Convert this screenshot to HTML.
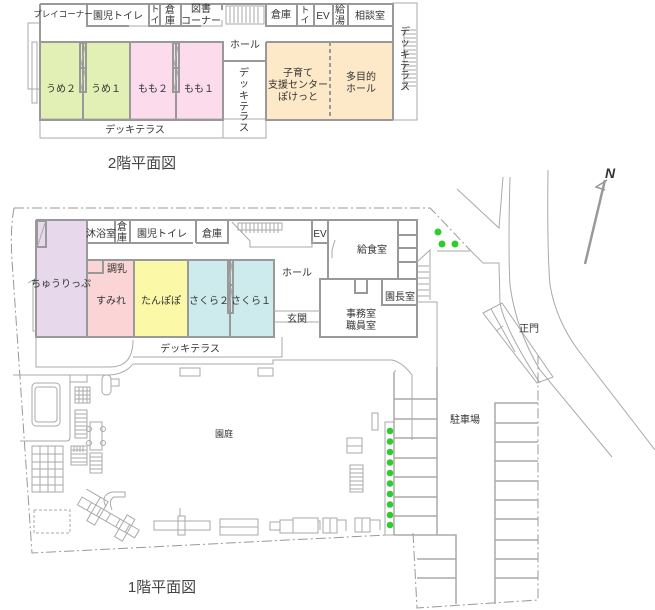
<!DOCTYPE html>
<html><head><meta charset="utf-8"><style>
html,body{margin:0;padding:0;background:#fff;}
svg{display:block;}
text{font-family:"Liberation Sans","Noto Sans CJK JP",sans-serif;font-size:10px;fill:#333;text-anchor:middle;}
.w{fill:none;stroke:#999;stroke-width:2;}
.t{fill:none;stroke:#aaa;stroke-width:1;}
.d{fill:none;stroke:#999;stroke-width:1;stroke-dasharray:10,3,2,3;}
.g{fill:#2ecc2e;}
</style></head><body>
<svg width="655" height="610" viewBox="0 0 655 610" xmlns="http://www.w3.org/2000/svg">
<!-- ===== 2F ===== -->
<rect x="40" y="42" width="43" height="77" fill="#e2f0b5"/>
<rect x="83" y="42" width="47" height="77" fill="#e2f0b5"/>
<rect x="130" y="42" width="93" height="77" fill="#fcdcec"/>
<rect x="266" y="42" width="127" height="77" fill="#fde9c8"/>
<rect x="28" y="23" width="12" height="66" class="t"/>
<rect x="32" y="42" width="5" height="61" class="t"/>
<rect x="40" y="119" width="226" height="19" class="t" fill="#fff"/>
<rect x="223" y="61" width="43" height="77" class="t"/>
<rect x="393" y="3" width="24" height="117" class="t"/>
<g class="t"><path d="M404 30H416M404 34H416M404 38H416M404 42H416M404 46H416M404 50H416M404 54H416M404 58H416M404 62H416M404 66H416M404 70H416M404 74H416M404 78H416M404 82H416M404 86H416M404 30V90"/></g>
<path class="w" d="M40 4H393V120M40 4V120H223V42M40 42H223V61H266M266 42V120H393M266 42H393"/>
<path class="w" d="M83 42V120M130 42V120M176 42V120"/>
<path d="M330 42V120" stroke="#999" stroke-width="2" stroke-dasharray="4,3"/>
<rect x="80" y="43" width="6" height="25" class="w"/><rect x="80" y="68" width="6" height="24" class="w"/>
<path class="t" d="M81 66L85 46M81 90L85 70"/>
<rect x="173" y="43" width="6" height="25" class="w"/><rect x="173" y="68" width="6" height="24" class="w"/>
<path class="t" d="M174 66L178 46M174 90L178 70"/>
<path class="w" d="M87 4V26H129M149 4V26H160M160 4V26H181V4M181 26H201M222 4V10M266 4V26H297V4M297 26H314V4M314 26H333V4M333 26H348V4M348 26H393"/>
<path class="t" d="M129 26H149M201 26H222V20"/>
<g class="t"><path d="M226 6H264V24H226ZM230 7V23M234 7V23M238 7V23M242 7V23M246 7V23M250 7V23M254 7V23M258 7V23"/></g>
<text x="63" y="17" style="font-size:8.5px">プレイコーナー</text>
<text x="118" y="19">園児トイレ</text>
<text x="155" y="12" style="font-size:9px">ト</text><text x="155" y="23" style="font-size:9px">イ</text>
<text x="170" y="13">倉</text><text x="170" y="24">庫</text>
<text x="201" y="12">図書</text><text x="201" y="24">コーナー</text>
<text x="281" y="18">倉庫</text>
<text x="305" y="13" style="font-size:9px">ト</text><text x="305" y="23" style="font-size:9px">イ</text>
<text x="323" y="19">EV</text>
<text x="340" y="13">給</text><text x="340" y="24">湯</text>
<text x="370" y="19">相談室</text>
<text x="245" y="48">ホール</text>
<text x="61" y="92">うめ２</text>
<text x="106" y="92">うめ１</text>
<text x="153" y="92">もも２</text>
<text x="199" y="92">もも１</text>
<text x="298" y="76">子育て</text>
<text x="298" y="88">支援センター</text>
<text x="298" y="100">ぽけっと</text>
<text x="361" y="80">多目的</text>
<text x="361" y="92">ホール</text>
<text x="244" y="76">デ</text><text x="244" y="87">ッ</text><text x="244" y="99">キ</text><text x="244" y="110">テ</text><text x="244" y="120">ラ</text><text x="244" y="131">ス</text>
<text x="405" y="35">デ</text><text x="405" y="46">ッ</text><text x="405" y="58">キ</text><text x="405" y="69">テ</text><text x="405" y="79">ラ</text><text x="405" y="90">ス</text>
<text x="135" y="133">デッキテラス</text>
<text x="142" y="168" style="font-size:15px;fill:#444">2階平面図</text>

<path d="M585 264L605 180" stroke="#999" stroke-width="2.5" fill="none"/>
<path d="M607 180L596 187L605 190" stroke="#999" stroke-width="1.5" fill="none"/>
<text x="610" y="178" style="font-size:14px;font-weight:bold;font-style:italic;fill:#333">N</text>

<g class="t">
<path d="M457 189L499 228L503 177"/>
<path d="M510 177Q508 250 510 285Q516 330 540 370L612 457"/>
<path d="M548 170Q547 250 550 285Q556 320 578 350L655 450"/>
<path d="M470 250L483 263H499L500 303Q505 330 540 383"/>
<path d="M483 313L502 303L553 377L537 383Z"/>
<path d="M491 309L515 352M496 331L503 326"/>
</g>
<text x="529" y="332">正門</text>

<g class="d">
<path d="M14 208H430L436 214L470 250"/>
<path d="M14 208Q10 230 12 260L32 553L387 535"/>
<path d="M413 533L417 608L538 600V356"/>
</g>

<rect x="36" y="220" width="51" height="117" fill="#e8d8ec"/>
<rect x="87" y="260" width="47" height="77" fill="#fbd5d5"/>
<rect x="134" y="260" width="54" height="77" fill="#fbf9a8"/>
<rect x="188" y="260" width="86" height="77" fill="#cdeaec"/>
<g class="t">
<path d="M36 337V367H110Q133 367 133 340"/>
<path d="M13 375H110Q125 374 133 364H273V360H392Q402 362 412 375V440"/>
<path d="M133 357H282V337"/>
<path d="M395 372V370M437 337V367"/>
<rect x="180" y="368" width="20" height="8"/><rect x="258" y="368" width="15" height="8"/>
<path d="M28 283L33 280V331H36M33 312V331"/>
</g>
<path class="w" d="M36 220H328M36 220V337H274V260H87M87 220V337M134 260V337M188 260V337M230 260V337"/>
<path class="w" d="M87 243H115V220M115 243H130V220M130 243H193M196 243V220M196 243H228V220M312 220V243H328"/>
<path class="w" d="M328 220H417V280M328 220V279H382M398 220V278M398 235H417M398 248H417M398 262H417"/>
<path class="w" d="M320 279H417V337H320ZM382 279V305H417M355 279V293H367V279"/>
<path class="t" d="M274 311H320M274 322H320"/>
<path class="w" d="M87 260V273H103V260"/>
<rect x="37" y="221" width="9" height="26" class="w"/><path class="t" d="M38 245L45 223"/>
<rect x="228" y="260" width="5" height="25" class="w"/><rect x="228" y="285" width="5" height="28" class="w"/>
<path class="t" d="M229 282L232 263M229 310L232 288"/>
<path class="t" d="M332 258V250L335 240"/>
<g class="t"><path d="M238 223H282V230H238ZM242 223V233M246 223V233M250 223V233M254 223V233M258 223V233M262 223V233M266 223V233M270 223V233M274 223V233M278 223V233"/>
<path d="M232 222L250 241M250 241V247H312V240"/>
<path d="M417 262L430 250V300M418 266H429M418 272H429M418 278H429M418 284H429M418 290H429M418 296H429M417 302H437V440"/>
<path d="M437 251H470"/></g>
<text x="101" y="237">沐浴室</text>
<text x="122" y="230">倉</text><text x="122" y="241">庫</text>
<text x="162" y="237">園児トイレ</text>
<text x="212" y="237">倉庫</text>
<text x="320" y="237">EV</text>
<text x="372" y="253">給食室</text>
<text x="61" y="287">ちゅうりっぷ</text>
<text x="117" y="272">調乳</text>
<text x="111" y="304">すみれ</text>
<text x="161" y="304">たんぽぽ</text>
<text x="209" y="304">さくら２</text>
<text x="251" y="304">さくら１</text>
<text x="297" y="276">ホール</text>
<text x="297" y="322">玄関</text>
<text x="400" y="300">園長室</text>
<text x="361" y="317">事務室</text>
<text x="361" y="329">職員室</text>
<text x="190" y="352">デッキテラス</text>
<text x="224" y="437" style="font-size:9px">園庭</text>
<text x="465" y="423">駐車場</text>
<text x="162" y="592" style="font-size:15px;fill:#444">1階平面図</text>

<circle class="g" cx="438" cy="232" r="3.5"/><circle class="g" cx="442" cy="244" r="3.5"/><circle class="g" cx="455" cy="244" r="3.5"/>
<rect x="385" y="422" width="9" height="113" class="t"/>
<g class="g"><circle cx="390" cy="431" r="3.3"/><circle cx="390" cy="441.5" r="3.3"/><circle cx="390" cy="452" r="3.3"/><circle cx="390" cy="462.5" r="3.3"/><circle cx="390" cy="473" r="3.3"/><circle cx="390" cy="483.5" r="3.3"/><circle cx="390" cy="494" r="3.3"/><circle cx="390" cy="504.5" r="3.3"/><circle cx="390" cy="515" r="3.3"/><circle cx="390" cy="525" r="3.3"/></g>

<g stroke="#aaa" stroke-width="1.5" fill="none">
<path d="M394 372V535M437 367V535M394 399H437M394 419H437M394 438H437M394 458H437M394 477H437M394 497H437M394 516H437M394 535H413"/>
<path d="M413 535H456V604M417 559H456M417 578H456"/>
<path d="M495 604V403H538M495 423H538M495 442H538M495 461H538M495 481H538M495 500H538M495 519H538M495 540H538M495 559H538M495 578H538"/>
</g>

<g class="t">
<rect x="32" y="383" width="28" height="43" rx="4"/><rect x="35" y="387" width="22" height="35" rx="3"/>
<path d="M20 441H67Q70 441 70 437V380"/>
<rect x="70" y="375" width="17" height="7"/>
<path d="M75 387H90V403H75ZM79 387V403M83 387V403M87 387V403M75 391H90M75 395H90M75 399H90"/>
<path d="M75 410H87V438H75ZM75 414H87M75 418H87M75 422H87M75 426H87M75 430H87M75 434H87"/>
<rect x="90" y="422" width="12" height="28"/><circle cx="89" cy="429" r="2.5"/><circle cx="89" cy="443" r="2.5"/><circle cx="103" cy="429" r="2.5"/><circle cx="103" cy="443" r="2.5"/>
<path d="M71 446H87V465H71ZM71 450H87M71 454H87M71 458H87M71 462H87M74 446V452M77 446V452M80 446V452M83 446V452"/>
<path d="M90 453H102V473H90ZM90 457H102M90 461H102M90 465H102M90 469H102"/>
<path d="M32 446H63V492H32ZM40 446V492M48 446V492M55 446V492M32 454H63M32 462H63M32 469H63M32 477H63M32 485H63"/>
<rect x="102" y="375" width="9" height="20" rx="4"/><rect x="111" y="379" width="8" height="7"/>
<rect x="34" y="510" width="36" height="23" stroke-dasharray="3,2"/>
<g transform="translate(82,497) rotate(30)"><path d="M0 0H66V9H0ZM11 0V9M22 0V9M33 0V9M44 0V9M55 0V9M16 -9H25V18H16ZM48 -7H57V18H48ZM0 -9H16V0"/></g>
<path d="M106 507Q100 495 112 492H125V497H114Q108 500 112 510"/>
<path d="M154 521H210V530H154ZM178 516H185V535H178ZM180 508V516"/>
<rect x="220" y="519" width="38" height="16"/><path class="t" d="M220 527H258"/>
<path d="M270 522H280V530H270ZM280 520H293V533H280ZM293 518H318V533H293ZM318 521H320V530"/>
<path d="M323 518H337V533H323ZM330 518V533M337 520H346V531"/>
<path d="M355 518H370V532H355ZM362 518V532M370 520H380V530"/>
<rect x="372" y="413" width="6" height="17"/>
<path d="M347 438H362V453H347ZM347 446H362"/>
<path d="M350 465H363V492H350ZM350 469H363M350 473H363M350 477H363M350 481H363M350 485H363M350 489H363"/>
</g>
</svg>
</body></html>
